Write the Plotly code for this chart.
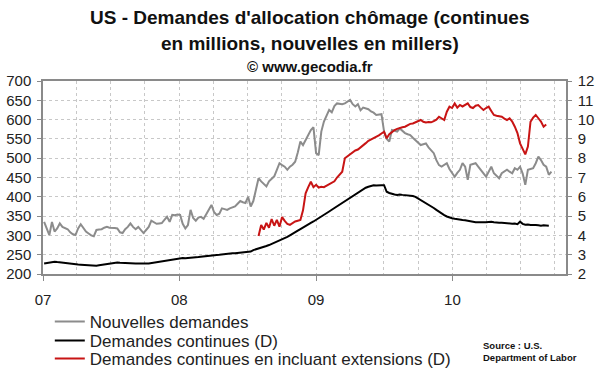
import pandas as pd
import plotly.graph_objects as go

# Weekly data
nouvelles = [
    335, 318, 301, 335, 310, 318, 331, 322, 318, 316,
    308, 303, 301, 318, 329, 320, 310, 305, 300, 298,
    314, 315, 316, 320, 322, 320, 320, 319, 318, 308,
    306, 316, 322, 331, 322, 316, 322, 314, 306, 314,
    322, 338, 334, 330, 331, 332, 340, 348, 335, 353,
    352, 354, 353, 330, 318, 327, 366, 345, 338, 346,
    348, 343, 355, 366, 379, 360, 353, 356, 370, 368,
    366, 370, 373, 375, 382, 389, 386, 384, 400, 375,
    389, 420, 448, 440, 434, 427, 440, 448, 453, 470,
    487, 482, 478, 470, 478, 483, 491, 515, 543, 534,
    547, 560, 573, 580, 513, 508, 569, 595, 610, 625,
    619, 635, 642, 641, 640, 642, 646, 651, 640, 634,
    640, 624, 631, 628, 627, 621, 618, 612, 613, 614,
    569, 550, 543, 573, 571, 569, 577, 570, 565, 562,
    560, 553, 547, 540, 534, 536, 538, 528, 521, 513,
    495, 482, 478, 483, 487, 472, 461, 452, 462, 470,
    487, 478, 444, 483, 485, 487, 478, 470, 461, 452,
    465, 478, 461, 455, 448, 461, 465, 470, 465, 461,
    474, 470, 478, 460, 431, 470, 472, 474, 487, 504,
    495, 483, 478, 457, 465,
]

continues = [
    2.55, 2.57, 2.60, 2.62, 2.64, 2.62, 2.60, 2.58, 2.57, 2.55,
    2.53, 2.52, 2.50, 2.49, 2.48, 2.47, 2.45, 2.44, 2.43, 2.41,
    2.43, 2.45, 2.47, 2.50, 2.52, 2.55, 2.56, 2.57, 2.59, 2.58,
    2.57, 2.56, 2.55, 2.55, 2.54, 2.55, 2.55, 2.54, 2.55, 2.55,
    2.55, 2.57, 2.60, 2.62, 2.64, 2.66, 2.69, 2.72, 2.74, 2.76,
    2.78, 2.80, 2.81, 2.83, 2.82, 2.84, 2.86, 2.85, 2.87, 2.88,
    2.90, 2.91, 2.93, 2.95, 2.96, 2.98, 2.99, 3.00, 3.02, 3.03,
    3.04, 3.05, 3.07, 3.08, 3.09, 3.10, 3.12, 3.13, 3.15, 3.16,
    3.24, 3.28, 3.30, 3.33, 3.38, 3.45, 3.50, 3.56, 3.62, 3.66,
    3.72, 3.76, 3.85, 3.92, 4.00, 4.07, 4.15, 4.25, 4.33, 4.42,
    4.48, 4.56, 4.65, 4.72, 4.80, 4.88, 4.97, 5.06, 5.15, 5.24,
    5.33, 5.42, 5.49, 5.58, 5.67, 5.76, 5.85, 5.95, 6.02, 6.10,
    6.22, 6.30, 6.40, 6.47, 6.52, 6.58, 6.60, 6.59, 6.61, 6.60,
    6.60, 6.26, 6.20, 6.15, 6.12, 6.10, 6.12, 6.10, 6.09, 6.09,
    6.08, 6.04, 6.00, 5.92, 5.85, 5.78, 5.70, 5.60, 5.52, 5.42,
    5.32, 5.22, 5.15, 5.05, 4.98, 4.92, 4.89, 4.86, 4.83, 4.81,
    4.80, 4.79, 4.76, 4.73, 4.70, 4.68, 4.68, 4.67, 4.66, 4.68,
    4.70, 4.71, 4.68, 4.66, 4.65, 4.66, 4.64, 4.63, 4.62, 4.60,
    4.62, 4.58, 4.71, 4.60, 4.55, 4.57, 4.54, 4.55, 4.54, 4.52,
    4.50, 4.52, 4.51, 4.50,
]

# Continuing claims including extensions, starting at week 82
ext_start_week = 82
extensions = [
    3.97, 4.54, 4.30, 4.65, 4.40, 4.85, 4.50, 4.80, 4.45, 4.95,
    4.75, 4.60, 4.55, 4.65, 4.72, 4.76, 4.80, 5.30, 6.18, 6.50,
    6.78, 6.50, 6.62, 6.48, 6.52, 6.50, 6.58, 6.65, 6.70, 6.80,
    7.00, 7.15, 7.30, 8.00, 8.10, 8.22, 8.32, 8.40, 8.45, 8.55,
    8.65, 8.78, 8.90, 8.96, 9.03, 9.10, 9.18, 9.28, 9.37, 9.03,
    9.25, 9.35, 9.46, 9.52, 9.58, 9.60, 9.63, 9.70, 9.78, 9.80,
    9.85, 9.89, 9.98, 9.89, 9.85, 9.88, 9.86, 9.92, 10.00, 10.15,
    10.05, 9.98, 10.41, 10.67, 10.60, 10.84, 10.62, 10.76, 10.68, 10.76,
    10.84, 10.65, 10.60, 10.72, 10.75, 10.62, 10.50, 10.60, 10.67, 10.45,
    10.24, 10.20, 10.18, 10.15, 10.05, 9.98, 10.07, 9.90, 9.63, 9.30,
    8.77, 8.50, 8.20, 8.60, 9.89, 10.10, 10.24, 10.07, 9.90, 9.63,
    9.75,
]

start = pd.Timestamp("2007-01-04")
dates_n = pd.date_range(start, periods=len(nouvelles), freq="7D")
dates_c = pd.date_range(start, periods=len(continues), freq="7D")
dates_e = pd.date_range(start + pd.Timedelta(weeks=ext_start_week),
                        periods=len(extensions), freq="7D")

y_left_ticks = list(range(200, 701, 50))
y_right_ticks = list(range(2, 13))

FONT = "Arial, Liberation Sans, sans-serif"

fig = go.Figure()
fig.add_trace(go.Scatter(x=dates_n, y=nouvelles, mode="lines",
                         name="Nouvelles demandes", legend="legend",
                         line=dict(color="#8c8c8c", width=2)))
fig.add_trace(go.Scatter(x=dates_c, y=continues, mode="lines",
                         name="Demandes continues (D)", yaxis="y2",
                         legend="legend2",
                         line=dict(color="#000000", width=2)))
fig.add_trace(go.Scatter(x=dates_e, y=extensions, mode="lines",
                         name="Demandes continues en incluant extensions (D)",
                         yaxis="y2", legend="legend3",
                         line=dict(color="#c81414", width=2)))

axis_col = "#8a8a8a"
grid_col = "#c8c8c8"

leg_common = dict(x=0.013, xanchor="left", yanchor="middle",
                  font=dict(size=17, family=FONT, color="#222222"),
                  bgcolor="rgba(0,0,0,0)", itemwidth=30)

fig.update_layout(
    width=600, height=372,
    margin=dict(l=43, r=34, t=81, b=98, autoexpand=False),
    paper_bgcolor="white", plot_bgcolor="white",
    font=dict(family=FONT, color="#222222"),
    showlegend=True,
    legend=dict(y=-0.249, **leg_common),
    legend2=dict(y=-0.347, **leg_common),
    legend3=dict(y=-0.440, **leg_common),
    xaxis=dict(
        type="date",
        range=["2007-01-01", "2010-11-01"],
        dtick="M12", tick0="2007-01-01", tickformat="%y",
        ticks="outside", ticklen=5, tickcolor=axis_col,
        ticklabelstandoff=6,
        showgrid=True, gridcolor=grid_col, griddash="dot", gridwidth=1,
        minor=dict(dtick="M3", showgrid=True, gridcolor=grid_col,
                   griddash="dot", gridwidth=1, ticks=""),
        showline=True, linecolor=axis_col, linewidth=1.5, mirror=True,
        tickfont=dict(size=15, family=FONT, color="#222222"),
        zeroline=False,
    ),
    yaxis=dict(
        range=[200, 700], tickvals=y_left_ticks,
        ticks="outside", ticklen=4, tickcolor=axis_col,
        ticklabelstandoff=3,
        showgrid=True, gridcolor=grid_col, griddash="dot", gridwidth=1,
        showline=True, linecolor=axis_col, linewidth=1.5,
        tickfont=dict(size=15, family=FONT, color="#222222"),
        zeroline=False,
    ),
    yaxis2=dict(
        range=[2, 12], tickvals=y_right_ticks, overlaying="y", side="right",
        ticks="outside", ticklen=4, tickcolor=axis_col,
        ticklabelstandoff=3,
        showgrid=False,
        showline=True, linecolor=axis_col, linewidth=1.5,
        tickfont=dict(size=15, family=FONT, color="#222222"),
        zeroline=False,
    ),
)

fig.add_annotation(text="<b>US - Demandes d'allocation chômage (continues</b>",
                   xref="paper", yref="paper", x=0.511, y=1.327,
                   xanchor="center", yanchor="middle",
                   showarrow=False, font=dict(size=19, family=FONT, color="#111111"))
fig.add_annotation(text="<b>en millions, nouvelles en millers)</b>",
                   xref="paper", yref="paper", x=0.511, y=1.192,
                   xanchor="center", yanchor="middle",
                   showarrow=False, font=dict(size=19, family=FONT, color="#111111"))
fig.add_annotation(text="<b>© www.gecodia.fr</b>",
                   xref="paper", yref="paper", x=0.511, y=1.073,
                   xanchor="center", yanchor="middle",
                   showarrow=False, font=dict(size=15, family=FONT, color="#111111"))
fig.add_annotation(text="<b>Source : U.S.<br>Department of Labor</b>",
                   xref="paper", yref="paper", x=0.838, y=-0.33,
                   xanchor="left", yanchor="top", align="left",
                   showarrow=False, font=dict(size=9.5, family=FONT, color="#111111"))

fig.write_html("out.html",
               config={"displayModeBar": False},
               post_script="document.body.style.margin='0px';"
                           "document.body.style.overflow='hidden';")
